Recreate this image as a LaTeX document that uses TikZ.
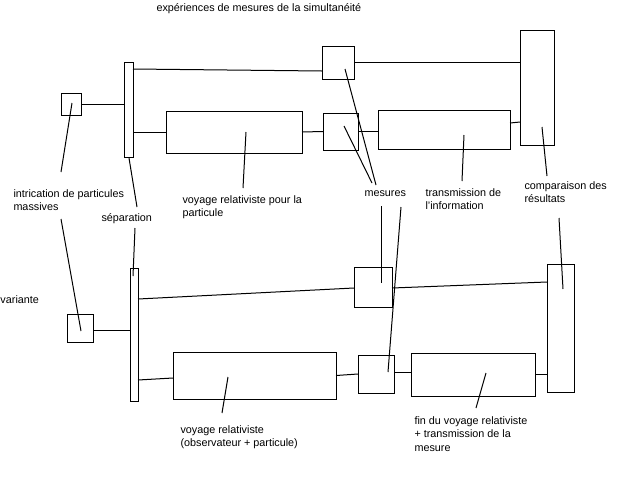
\documentclass[tikz,border=0pt]{standalone}
\usepackage{fontspec}
\setmainfont{Liberation Sans}
\begin{document}
\begin{tikzpicture}[x=1pt,y=-1pt,line width=1pt,
  box/.style 2 args={draw,rectangle,inner sep=0pt,outer sep=0pt,minimum width=#1pt,minimum height=#2pt},
  lbl/.style={anchor=base west,inner sep=0pt,align=left,font=\fontsize{10.8}{13.5}\selectfont}]
\useasboundingbox (0,0) rectangle (640,480);
% boxes, upper experiment
\node[box={20}{22}] (A1) at (71,104) {};
\node[box={9}{95}] (S1) at (128.5,109.5) {};
\node[box={32}{33}] (M1a) at (338,62.5) {};
\node[box={34}{115}] (R1) at (537,87.5) {};
\node[box={136}{42}] (V1) at (234,132) {};
\node[box={35}{37}] (M1b) at (340.5,131.5) {};
\node[box={132}{39}] (T1) at (444,129.5) {};
% boxes, variant
\node[box={26}{28}] (A2) at (80,328) {};
\node[box={8}{133}] (S2) at (134,334.5) {};
\node[box={38}{40}] (M2a) at (373,287) {};
\node[box={27}{128}] (R2) at (560.5,328) {};
\node[box={163}{47}] (V2) at (254.5,375.5) {};
\node[box={36}{38}] (M2b) at (376,374) {};
\node[box={124}{43}] (T2) at (473,374.5) {};
% connectors, upper
\draw (A1.east) -- (A1.east -| S1.west);
\draw ([shift={(0,7)}]S1.north east) -- ([shift={(0,8.5)}]M1a.west);
\draw (M1a.east) -- (M1a.east -| R1.west);
\draw (V1.west -| S1.east) -- (V1.west);
\draw (V1.east) -- (M1b.west);
\draw (M1b.east) -- (M1b.east -| T1.west);
\draw ([shift={(0,-6.5)}]T1.east) -- ([shift={(0,34.5)}]R1.west);
% connectors, variant
\draw ([shift={(0,2)}]A2.east) -- ([shift={(0,-4.5)}]S2.west);
\draw ([shift={(0,-35.5)}]S2.east) -- ([shift={(0,1)}]M2a.west);
\draw ([shift={(0,1)}]M2a.east) -- ([shift={(0,-46)}]R2.west);
\draw ([shift={(0,45.5)}]S2.east) -- ([shift={(0,2.5)}]V2.west);
\draw (V2.east) -- (M2b.west);
\draw ([shift={(0,-2)}]M2b.east) -- ([shift={(0,-2.5)}]T2.west);
\draw (T2.east) -- (T2.east -| R2.west);
% labels (anchor = baseline of the last line)
\node[lbl] (Ltitle) at (156,11) {expériences de mesures de la simultanéité};
\node[lbl] (Lint) at (13,210.5) {intrication de particules\\massives};
\node[lbl] (Lsep) at (101,221) {séparation};
\node[lbl] (Lv1) at (182,216.5) {voyage relativiste pour la\\particule};
\node[lbl] (Lmes) at (364,196) {mesures};
\node[lbl] (Ltr) at (425,209.5) {transmission de\\l'information};
\node[lbl] (Lcmp) at (524,202.5) {comparaison des\\résultats};
\node[lbl] (Lvar) at (0,303) {variante};
\node[lbl] (Lv2) at (180,446.5) {voyage relativiste\\(observateur + particule)};
\node[lbl] (Lfin) at (414,451) {fin du voyage relativiste\\+ transmission de la\\mesure};
% leader ends
\coordinate (e1) at (61,172);
\coordinate (e2) at (61,219);
\coordinate (e3) at (137,207);
\coordinate (e4) at (135,228);
\coordinate (e5) at (243,188);
\coordinate (e6) at (376,185);
\coordinate (e7) at (372,183);
\coordinate (e8) at (381,206);
\coordinate (e9) at (401,207);
\coordinate (e10) at (462,181);
\coordinate (e11) at (547,176);
\coordinate (e12) at (559,218);
\coordinate (e13) at (222,413);
\coordinate (e14) at (476,408);
% leaders
\draw ([shift={(1,-1)}]A1.center) -- (e1);
\draw (e2) -- ([shift={(1,3)}]A2.center);
\draw ([shift={(0.5,1)}]S1.south) -- (e3);
\draw (e4) -- ([shift={(-1,8)}]S2.north);
\draw ([shift={(12,0)}]V1.center) -- (e5);
\draw ([shift={(7,6.5)}]M1a.center) -- (e6);
\draw ([shift={(3.5,-5.5)}]M1b.center) -- (e7);
\draw (e8) -- ([shift={(8,-4)}]M2a.center);
\draw (e9) -- ([shift={(12,-2)}]M2b.center);
\draw ([shift={(20,5.5)}]T1.center) -- (e10);
\draw ([shift={(5,39.5)}]R1.center) -- (e11);
\draw (e12) -- ([shift={(2.5,-39)}]R2.center);
\draw ([shift={(-26.5,1.5)}]V2.center) -- (e13);
\draw ([shift={(13,-1.5)}]T2.center) -- (e14);
\end{tikzpicture}
\end{document}
